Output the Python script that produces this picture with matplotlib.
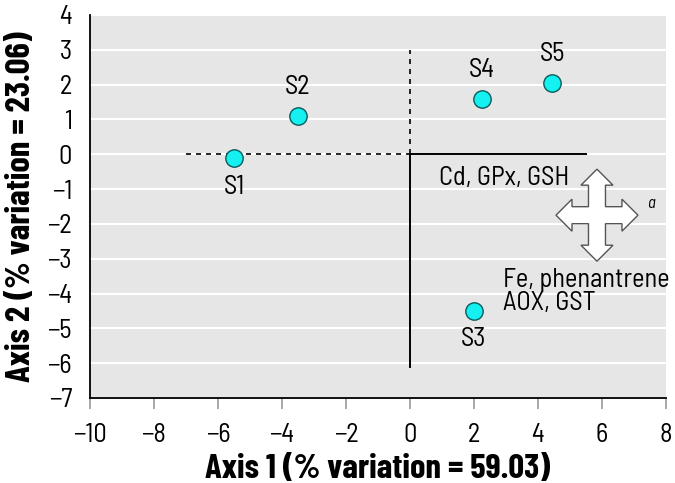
import matplotlib
matplotlib.use("Agg")
import matplotlib.pyplot as plt
from matplotlib.patches import Polygon

plt.rcParams['font.family'] = ['Barlow Semi Condensed', 'Archivo Narrow', 'DejaVu Sans']
bold_family = ['Barlow Condensed', 'Archivo Narrow', 'DejaVu Sans']

sites = ['S1', 'S2', 'S3', 'S4', 'S5']
axis1 = [-5.5, -3.5, 2.0, 2.25, 4.45]
axis2 = [-0.12, 1.1, -4.5, 1.58, 2.05]
label_dy = [-0.83, 0.83, -0.8, 0.83, 0.83]

xticks = list(range(-10, 9, 2))
yticks = list(range(-7, 5))

fig = plt.figure(figsize=(6.75, 4.83), dpi=100)
ax = fig.add_axes([0.1333, 0.176, 0.853, 0.793])
ax.set_facecolor('#e6e6e6')
ax.set_xlim(-10, 8)
ax.set_ylim(-7, 4)
for y in yticks:
    ax.axhline(y, color='white', lw=1.5, zorder=0)

for s in ['top', 'right']:
    ax.spines[s].set_visible(False)
ax.spines['left'].set_linewidth(1.3)
ax.spines['bottom'].set_linewidth(1.3)
ax.set_xticks(xticks)
ax.set_yticks(yticks)
ax.set_xticklabels([str(t).replace('-', '\u2212') for t in xticks])
ax.set_yticklabels([str(t).replace('-', '\u2212') for t in yticks])
ax.tick_params(axis='x', direction='out', length=8, width=1.2, color='#999999',
               labelsize=19, pad=10)
ax.tick_params(axis='y', length=0, labelsize=19, pad=13)

# loading lines
ax.plot([-7, 0], [0, 0], color='black', lw=1.2, ls=(0, (3, 3)), zorder=2)
ax.plot([0, 0], [0, 3], color='black', lw=1.2, ls=(0, (3, 3)), zorder=2)
ax.plot([0, 5.5], [0, 0], color='black', lw=1.4, zorder=2)
ax.plot([0, 0], [0, -6.1], color='black', lw=1.4, zorder=2)

ax.plot(axis1, axis2, 'o', ms=12.5, mfc='#15f0f0', mec='#0a5a5a', mew=1, zorder=3)
for s, x, y, dy in zip(sites, axis1, axis2, label_dy):
    ax.text(x, y + dy, s, ha='center', va='center', fontsize=19)

ax.text(0.9, -0.68, 'Cd, GPx, GSH', fontsize=19, va='center')
ax.text(2.9, -3.62, 'Fe, phenantrene', fontsize=19, va='center')
ax.text(2.9, -4.27, 'AOX, GST', fontsize=19, va='center')

# cross arrow icon (pixel offsets converted to data units)
cx, cy = 5.85, -1.75
ux, uy = 1 / 32.0, 1 / 34.8
pts = [(0, 46), (16, 30), (8.5, 30), (8.5, 8.5), (25, 8.5), (25, 16), (41, 0),
       (25, -16), (25, -8.5), (8.5, -8.5), (8.5, -30), (16, -30), (0, -46),
       (-16, -30), (-8.5, -30), (-8.5, -8.5), (-25, -8.5), (-25, -16), (-41, 0),
       (-25, 16), (-25, 8.5), (-8.5, 8.5), (-8.5, 30), (-16, 30)]
poly = Polygon([(cx + px * ux, cy + py * uy) for px, py in pts], closed=True,
               facecolor='white', edgecolor='#555555', lw=1, zorder=3)
ax.add_patch(poly)
ax.text(7.4, -1.4, 'a', fontsize=12, style='italic', va='center')

ax.set_xlabel('Axis 1 (% variation = 59.03)', fontsize=25, fontweight='bold',
              family=bold_family, labelpad=5)
ax.set_ylabel('Axis 2 (% variation = 23.06)', fontsize=25, fontweight='bold',
              family=bold_family, labelpad=8)

fig.savefig('out.png', dpi=100)
